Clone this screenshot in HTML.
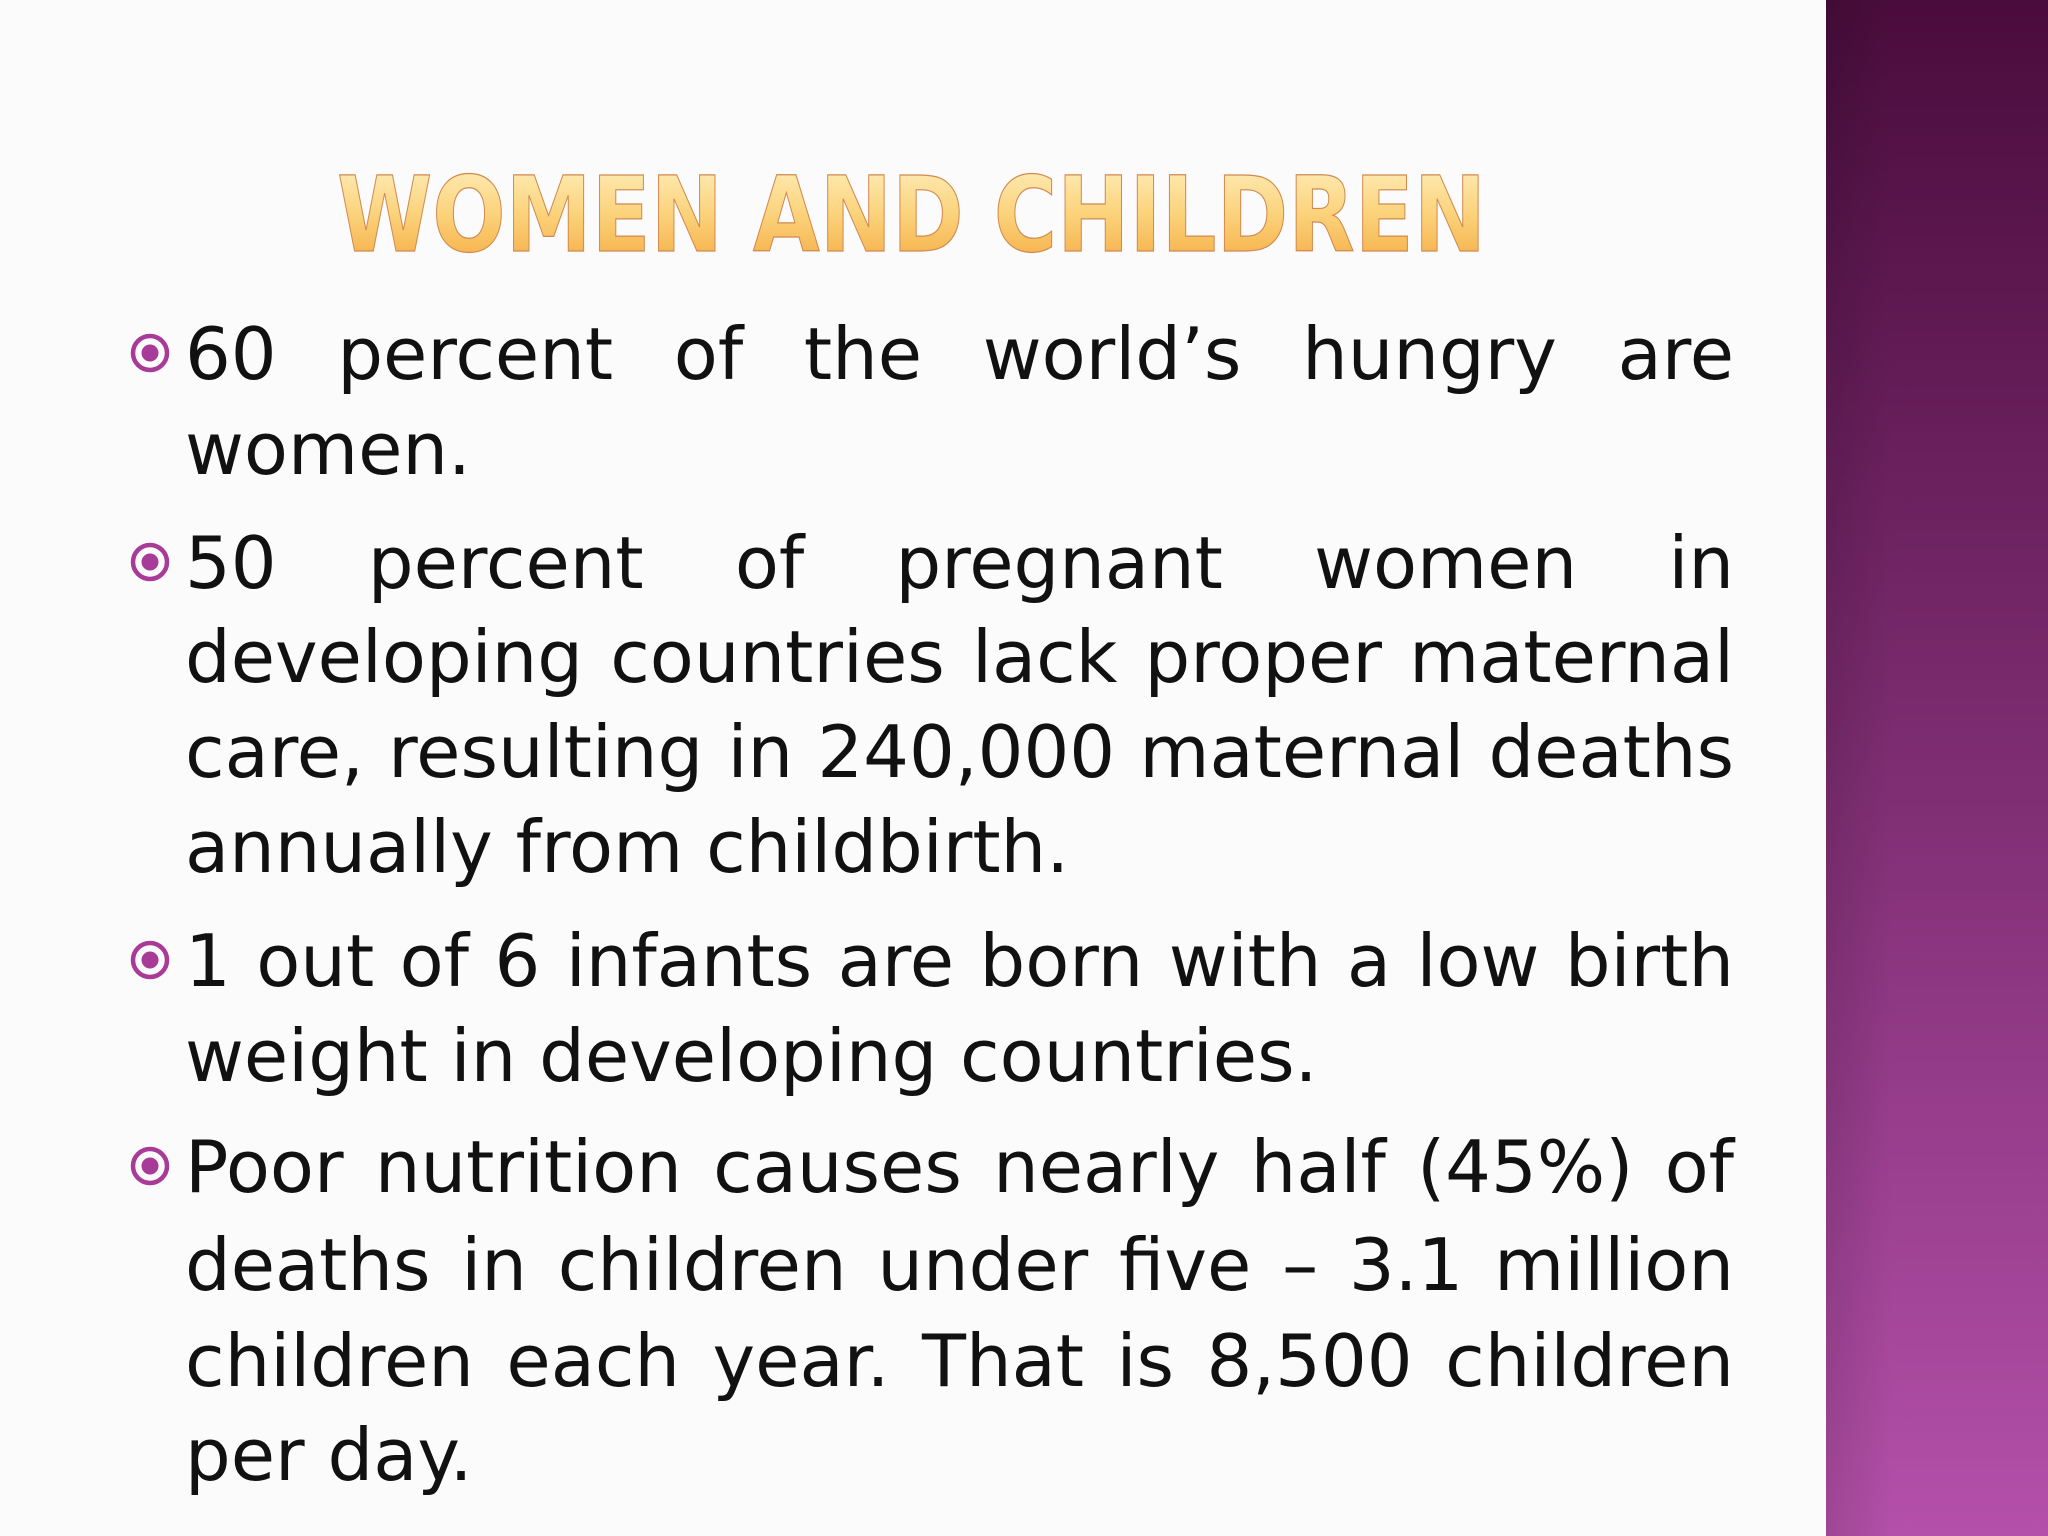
<!DOCTYPE html>
<html><head><meta charset="utf-8"><style>
html,body{margin:0;padding:0;background:#fbfbfb;}
svg{display:block;}
</style></head><body>
<svg id="s" width="2048" height="1536" viewBox="0 0 2048 1536" xmlns="http://www.w3.org/2000/svg">
<defs>
<linearGradient id="side" x1="0" y1="0" x2="0" y2="1">
<stop offset="0" stop-color="#4a0c3c"/><stop offset="0.5" stop-color="#7e2d72"/><stop offset="1" stop-color="#b450aa"/>
</linearGradient>
<linearGradient id="side2" x1="0" y1="0" x2="1" y2="0">
<stop offset="0" stop-color="#000" stop-opacity="0.12"/><stop offset="0.3" stop-color="#000" stop-opacity="0"/>
</linearGradient>
<linearGradient id="title" x1="0" y1="0" x2="0" y2="1">
<stop offset="0" stop-color="#fff2c4"/><stop offset="0.5" stop-color="#fbd27a"/><stop offset="1" stop-color="#f4a53a"/>
</linearGradient>
</defs>
<rect x="0" y="0" width="1826" height="1536" fill="#fbfbfb"/>
<rect x="1826" y="0" width="222" height="1536" fill="url(#side)"/>
<rect x="1826" y="0" width="222" height="1536" fill="url(#side2)"/>
<text x="337" y="251" font-family="DejaVu Sans, sans-serif" font-weight="bold" font-size="104" fill="url(#title)" stroke="#d08a50" stroke-width="1.2" textLength="1149" lengthAdjust="spacingAndGlyphs">WOMEN AND CHILDREN</text>
<g font-family="DejaVu Sans, sans-serif" font-size="72" fill="#111">
<g>
<circle cx="150" cy="353" r="17" fill="none" stroke="#a83a98" stroke-width="4.5"/><circle cx="150" cy="353" r="8.5" fill="#a83a98"/>
<text class="j" x="185" y="379">60 percent of the world’s hungry are</text>
<text x="185" y="474">women.</text>
</g>
<g>
<circle cx="150" cy="562" r="17" fill="none" stroke="#a83a98" stroke-width="4.5"/><circle cx="150" cy="562" r="8.5" fill="#a83a98"/>
<text class="j" x="185" y="588">50 percent of pregnant women in</text>
<text class="j" x="185" y="682">developing countries lack proper maternal</text>
<text class="j" x="185" y="777">care, resulting in 240,000 maternal deaths</text>
<text x="185" y="872">annually from childbirth.</text>
</g>
<g>
<circle cx="150" cy="960" r="17" fill="none" stroke="#a83a98" stroke-width="4.5"/><circle cx="150" cy="960" r="8.5" fill="#a83a98"/>
<text class="j" x="185" y="986">1 out of 6 infants are born with a low birth</text>
<text x="185" y="1081">weight in developing countries.</text>
</g>
<g>
<circle cx="150" cy="1166" r="17" fill="none" stroke="#a83a98" stroke-width="4.5"/><circle cx="150" cy="1166" r="8.5" fill="#a83a98"/>
<text class="j" x="185" y="1192">Poor nutrition causes nearly half (45%) of</text>
<text class="j" x="185" y="1290">deaths in children under five – 3.1 million</text>
<text class="j" x="185" y="1386">children each year. That is 8,500 children</text>
<text x="185" y="1480">per day.</text>
</g>
</g>
</svg>
<script>
var target=1549;
document.querySelectorAll('text.j').forEach(function(t){
  var w=t.getComputedTextLength();
  var n=(t.textContent.match(/ /g)||[]).length;
  if(w<target&&n>0){t.setAttribute('word-spacing',((target-w)/n).toFixed(2));}
  else if(w>target){t.setAttribute('textLength',target);t.setAttribute('lengthAdjust','spacingAndGlyphs');}
});
</script>
</body></html>
